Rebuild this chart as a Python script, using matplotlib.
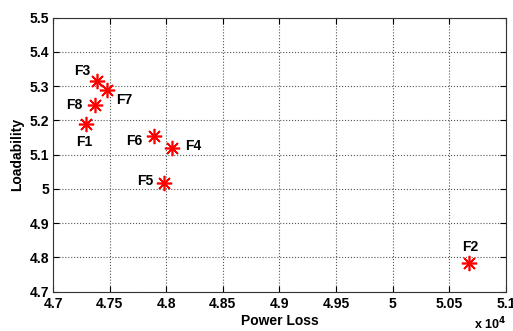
from matplotlib import pyplot as plt
import numpy as np

# DATA
labels = ['F1', 'F2', 'F3', 'F4', 'F5', 'F6', 'F7', 'F8']
power_loss = [47291, 50670, 47389, 48054, 47983, 47892, 47474, 47368]
loadability = [5.188, 4.783, 5.315, 5.120, 5.016, 5.153, 5.288, 5.245]
# label offsets in points
offsets = {'F1': (-1, -13), 'F2': (1, 12), 'F3': (-11, 7), 'F4': (15, 1),
           'F5': (-14, 2), 'F6': (-14, -3), 'F7': (13, -7), 'F8': (-15, 0)}

# SCRIPT
if __name__ == '__main__':
    plt.rcParams['font.family'] = ['Liberation Sans', 'DejaVu Sans']
    plt.rcParams['font.weight'] = 'bold'

    fig = plt.figure(figsize=(5.13, 3.31), dpi=100)
    ax = fig.add_axes([53 / 513, 1 - 291.7 / 331, 453 / 513, 274.2 / 331])

    x = np.array(power_loss) / 1e4
    ax.plot(x, loadability, linestyle='none', marker=(8, 2, 0),
            markersize=11, markeredgewidth=1.2, color='red')
    for lab, xi, yi in zip(labels, x, loadability):
        ax.annotate(lab, (xi, yi), xytext=offsets[lab],
                    textcoords='offset points', ha='center', va='center',
                    fontsize=10, fontweight='bold')

    ax.set_xlim(4.7, 5.1)
    ax.set_ylim(4.7, 5.5)
    ax.set_xticks(np.arange(4.7, 5.101, 0.05))
    ax.set_xticklabels(['4.7', '4.75', '4.8', '4.85', '4.9', '4.95', '5',
                        '5.05', '5.1'])
    ax.set_yticks(np.arange(4.7, 5.501, 0.1))
    ax.set_yticklabels(['4.7', '4.8', '4.9', '5', '5.1', '5.2', '5.3',
                        '5.4', '5.5'])
    ax.tick_params(direction='in', length=4, labelsize=10, top=True,
                   right=True)
    ax.tick_params(axis='x', pad=4)
    ax.tick_params(axis='y', pad=3)
    ax.grid(True, linestyle=':', color='#555555', linewidth=0.8)
    for s in ax.spines.values():
        s.set_linewidth(0.8)
        s.set_color('#333333')

    ax.set_xlabel('Power Loss', fontsize=10, fontweight='bold', labelpad=2)
    ax.set_ylabel('Loadability', fontsize=10, fontweight='bold', labelpad=4)
    fig.text(490 / 513, 1 - 324 / 331, r'x 10$^{4}$', fontsize=9,
             fontweight='bold', ha='center', va='center')

    fig.savefig('out.png', dpi=100)
